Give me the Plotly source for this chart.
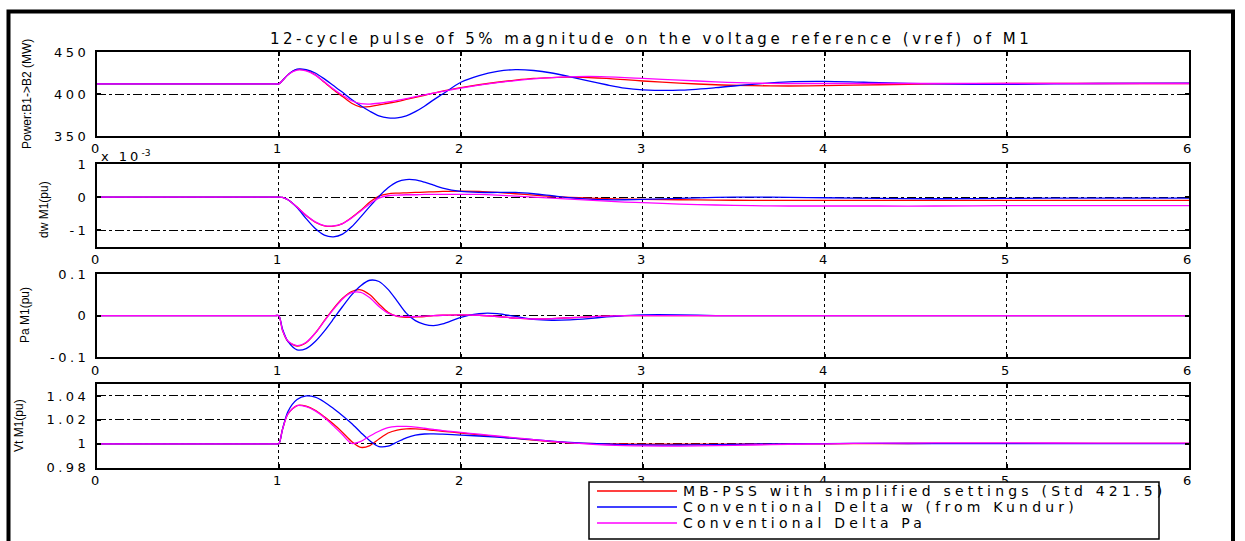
import plotly.graph_objects as go

# ---------------- data ----------------
t = [0, 0.5, 0.98, 1.0, 1.02, 1.05, 1.1, 1.15, 1.2, 1.25, 1.3, 1.35, 1.4, 1.45, 1.5,
     1.55, 1.6, 1.65, 1.7, 1.75, 1.8, 1.85, 1.9, 2.0, 2.1, 2.2, 2.3, 2.4, 2.5, 2.6,
     2.7, 2.8, 2.9, 3.0, 3.2, 3.4, 3.6, 3.8, 4.0, 4.3, 4.6, 5.0, 5.5, 6.0]

# Panel 1: Power B1->B2 (MW)
p_red = [412, 412, 412, 412, 416, 423, 429, 428, 423, 414, 405, 397, 389, 384.5, 385,
         387, 389, 391, 393.5, 396, 398.5, 401, 403.5, 407.5, 411, 414, 416.5, 418.5, 419.5, 420,
         419.5, 418.5, 417, 415.5, 413, 411, 410, 409.5, 410, 411, 412, 412.5, 412.5, 412.5]
p_blue = [412, 412, 412, 412, 416, 423, 429.5, 429, 425, 418, 410, 402, 393.5, 386, 379.5,
          374, 371.5, 371.5, 374, 379, 385.5, 393, 400, 414, 422, 427, 429, 428, 425, 420.5,
          415.5, 411, 407, 405, 404.5, 407.5, 411.5, 414.5, 415, 413.5, 412, 411.5, 412.5, 413]
p_mag = [412, 412, 412, 412, 416, 423, 428.5, 427.5, 422.5, 414.5, 406, 398.5, 392, 388.5, 388,
         389, 390.5, 392.5, 394.5, 397, 399, 401, 403, 407, 410.5, 413.5, 416, 418, 419.5, 420.5,
         421, 420.5, 419.5, 418.5, 416.5, 414.5, 413, 412.5, 412.5, 412.5, 412.5, 412.5, 412.5, 412.5]

# Panel 2: dw M1 (pu), in units of 1e-3
dw_red = [0, 0, 0, 0, -0.01, -0.08, -0.3, -0.56, -0.76, -0.87, -0.88, -0.8, -0.62, -0.4, -0.15,
          0.03, 0.1, 0.12, 0.13, 0.14, 0.15, 0.16, 0.17, 0.18, 0.17, 0.14, 0.1, 0.06, 0.02, -0.01,
          -0.03, -0.05, -0.06, -0.07, -0.08, -0.09, -0.1, -0.1, -0.1, -0.1, -0.1, -0.1, -0.1, -0.1]
dw_blue = [0, 0, 0, 0, -0.01, -0.08, -0.32, -0.65, -0.95, -1.15, -1.2, -1.12, -0.9, -0.6, -0.28,
           0.02, 0.28, 0.46, 0.53, 0.52, 0.45, 0.36, 0.27, 0.17, 0.14, 0.14, 0.14, 0.1, 0.04, -0.02,
           -0.06, -0.08, -0.08, -0.07, -0.04, -0.01, 0.0, -0.01, -0.02, -0.04, -0.05, -0.04, -0.03, -0.03]
dw_mag = [0, 0, 0, 0, -0.01, -0.08, -0.3, -0.55, -0.75, -0.86, -0.87, -0.8, -0.63, -0.42, -0.2,
          -0.03, 0.04, 0.06, 0.07, 0.07, 0.08, 0.08, 0.08, 0.08, 0.08, 0.06, 0.03, 0.0, -0.03, -0.06,
          -0.09, -0.12, -0.15, -0.17, -0.21, -0.24, -0.26, -0.27, -0.27, -0.27, -0.27, -0.26, -0.26, -0.26]

# Panel 3: Pa M1 (pu)
pa_red = [0, 0, 0, 0, -0.035, -0.062, -0.073, -0.065, -0.042, -0.012, 0.017, 0.042, 0.058, 0.062, 0.05,
          0.028, 0.008, -0.002, -0.004, -0.003, -0.002, 0.0, 0.001, 0.002, 0.001, -0.002, -0.006, -0.008, -0.007, -0.005,
          -0.003, -0.001, 0.0, 0.0, 0.0, 0.0, 0.0, 0.0, 0.0, 0.0, 0.0, 0.0, 0.0, 0.0]
pa_blue = [0, 0, 0, 0, -0.032, -0.062, -0.082, -0.079, -0.062, -0.037, -0.008, 0.022, 0.05, 0.072, 0.085,
           0.082, 0.063, 0.035, 0.006, -0.012, -0.021, -0.024, -0.02, -0.004, 0.005, 0.005, -0.002, -0.009, -0.011, -0.01,
           -0.007, -0.003, 0.0, 0.002, 0.002, 0.0, 0.0, 0.0, 0.0, 0.0, 0.0, 0.0, 0.0, 0.0]
pa_mag = [0, 0, 0, 0, -0.035, -0.061, -0.072, -0.064, -0.042, -0.013, 0.015, 0.04, 0.055, 0.056, 0.043,
          0.022, 0.006, -0.001, -0.002, -0.002, -0.001, 0.0, 0.001, 0.002, 0.001, -0.002, -0.006, -0.008, -0.007, -0.005,
          -0.003, -0.001, 0.0, 0.0, 0.0, 0.0, 0.0, 0.0, 0.0, 0.0, 0.0, 0.0, 0.0, 0.0]

# Panel 4: Vt M1 (pu)
vt_red = [1.0, 1.0, 1.0, 1.0, 1.012, 1.025, 1.032, 1.0315, 1.028, 1.0225, 1.0165, 1.0095, 1.002, 0.997, 0.9985,
          1.004, 1.009, 1.0115, 1.0125, 1.0125, 1.012, 1.0112, 1.0105, 1.009, 1.0075, 1.006, 1.0045, 1.003, 1.0017, 1.0008,
          1.0003, 1.0, 0.9998, 0.9997, 0.9996, 0.9997, 0.9998, 0.9999, 1.0, 1.0002, 1.0003, 1.0003, 1.0003, 1.0003]
vt_blue = [1.0, 1.0, 1.0, 1.0, 1.012, 1.027, 1.037, 1.040, 1.039, 1.035, 1.0295, 1.0235, 1.017, 1.0095, 1.0025,
           0.9977, 0.998, 1.0015, 1.005, 1.0072, 1.0082, 1.0083, 1.008, 1.0073, 1.0065, 1.0055, 1.0045, 1.0035, 1.0022, 1.0012,
           1.0004, 0.9998, 0.9993, 0.999, 0.999, 0.9993, 0.9997, 1.0, 1.0002, 1.0003, 1.0002, 1.0002, 1.0002, 1.0002]
vt_mag = [1.0, 1.0, 1.0, 1.0, 1.012, 1.025, 1.032, 1.031, 1.0275, 1.022, 1.015, 1.0075, 1.0003, 1.002, 1.0065,
          1.0105, 1.0135, 1.0145, 1.0145, 1.014, 1.013, 1.012, 1.011, 1.0095, 1.008, 1.0065, 1.005, 1.0035, 1.002, 1.0008,
          0.9998, 0.999, 0.9985, 0.9982, 0.9981, 0.9985, 0.999, 0.9996, 1.0, 1.0005, 1.0007, 1.0007, 1.0006, 1.0005]

series_names = ["MB-PSS with simplified settings (Std 421.5)",
                "Conventional Delta w (from Kundur)",
                "Conventional Delta Pa"]
series_colors = ["#ff0000", "#0000ff", "#ff00ff"]

x_ticks = [0, 1, 2, 3, 4, 5, 6]
y1_ticks = [350, 400, 450]
y2_ticks = [-1, 0, 1]
y3_ticks = [-0.1, 0, 0.1]
y3_labels = ["-0.1", "0", "0.1"]
y4_ticks = [0.98, 1.0, 1.02, 1.04]
y4_labels = ["0.98", "1", "1.02", "1.04"]

title_text = "12-cycle pulse of 5% magnitude on the voltage reference (vref) of M1"
ytitles = ["Power:B1->B2 (MW)", "dw M1(pu)", "Pa M1(pu)", "Vt M1(pu)"]

# ---------------- layout helpers ----------------
W, H = 1245, 541
def px(x):
    return x / W
def py(y):
    return 1 - y / H

def sp(s, ls, size=None):
    st = f"letter-spacing:{ls}px"
    if size:
        st += f";font-size:{size}px"
    return f'<span style="{st}">{s}</span>'

TICK_LS = 3.5
FONT = "DejaVu Sans"

panels = [
    (p_red, p_blue, p_mag, [350, 450], y1_ticks, [str(v) for v in y1_ticks], (52, 136)),
    (dw_red, dw_blue, dw_mag, [-1.5, 1], y2_ticks, [str(v) for v in y2_ticks], (164, 246.7)),
    (pa_red, pa_blue, pa_mag, [-0.1, 0.1], y3_ticks, y3_labels, (274, 357.3)),
    (vt_red, vt_blue, vt_mag, [0.98, 1.05], y4_ticks, y4_labels, (384, 467.7)),
]

fig = go.Figure()
layout = {}
xdom = [px(96.8), px(1189)]

for i, (r, b, m, yr, yt, yl, (ytop, ybot)) in enumerate(panels, start=1):
    xa = "x" if i == 1 else f"x{i}"
    ya = "y" if i == 1 else f"y{i}"
    for vals, name, col in zip((r, b, m), series_names, series_colors):
        fig.add_trace(go.Scatter(
            x=t, y=vals, mode="lines", name=name,
            line=dict(color=col, width=1.3, shape="spline", smoothing=0.8),
            xaxis=xa, yaxis=ya, showlegend=False, hoverinfo="skip"))
    common = dict(showline=True, linecolor="black", linewidth=1.6, mirror="ticks",
                  ticks="inside", ticklen=4, tickcolor="black", tickwidth=1.5,
                  zeroline=False, showgrid=True, gridcolor="black", gridwidth=1,
                  tickfont=dict(family=FONT, size=13, color="black"))
    layout[f"xaxis{'' if i == 1 else i}"] = dict(
        common, domain=xdom, range=[0, 6], tickvals=x_ticks,
        ticktext=[sp(str(v), TICK_LS) for v in x_ticks], griddash="dot",
        anchor=ya, ticklabelstandoff=0)
    layout[f"yaxis{'' if i == 1 else i}"] = dict(
        common, domain=[py(ybot), py(ytop)], range=yr, tickvals=yt,
        ticktext=[sp(s, TICK_LS) for s in yl], griddash="dashdot",
        anchor=xa, ticklabelstandoff=3)

annotations = [
    dict(text=sp(title_text, 3.5), x=px(651), y=py(39), xref="paper", yref="paper",
         showarrow=False, font=dict(family=FONT, size=15, color="black"),
         xanchor="center", yanchor="middle"),
    dict(text=sp("x 10", 3) + "<sup>-3</sup>", x=px(99), y=py(156), xref="paper", yref="paper",
         showarrow=False, font=dict(family=FONT, size=13, color="black"),
         xanchor="left", yanchor="middle"),
]
ytitle_pos = [(27, 94), (44, 209), (25, 315), (19, 426)]
for txt, (xx, yy) in zip(ytitles, ytitle_pos):
    annotations.append(dict(text=txt, x=px(xx), y=py(yy), xref="paper", yref="paper",
                            showarrow=False, textangle=-90,
                            font=dict(family="Liberation Sans", size=12, color="black"),
                            xanchor="center", yanchor="middle"))

shapes = [dict(type="rect", xref="paper", yref="paper",
               x0=px(8.5), x1=px(1233), y0=py(548), y1=py(11.5),
               line=dict(color="black", width=4), fillcolor="rgba(0,0,0,0)")]

# legend box (drawn manually to match the compact MATLAB legend)
LEG_X0, LEG_X1, LEG_Y0, LEG_Y1 = 589, 1159, 482, 539
shapes.append(dict(type="rect", xref="paper", yref="paper",
                   x0=px(LEG_X0), x1=px(LEG_X1), y0=py(LEG_Y1), y1=py(LEG_Y0),
                   line=dict(color="black", width=1.5), fillcolor="white", layer="above"))
for k, (name, col) in enumerate(zip(series_names, series_colors)):
    yy = 491 + 16 * k
    shapes.append(dict(type="line", xref="paper", yref="paper",
                       x0=px(597), x1=px(677), y0=py(yy), y1=py(yy),
                       line=dict(color=col, width=1.5), layer="above"))
    annotations.append(dict(text=sp(name, 4.2), x=px(681), y=py(yy), xref="paper", yref="paper",
                            showarrow=False, font=dict(family=FONT, size=14, color="black"),
                            xanchor="left", yanchor="middle"))

fig.update_layout(
    **layout,
    width=W, height=H,
    margin=dict(l=0, r=0, t=0, b=0, autoexpand=False),
    paper_bgcolor="white", plot_bgcolor="white",
    annotations=annotations, shapes=shapes,
    showlegend=False,
)

fig.write_html("out.html", config={"displayModeBar": False},
               post_script="document.body.style.margin='0';document.body.style.overflow='hidden';")
